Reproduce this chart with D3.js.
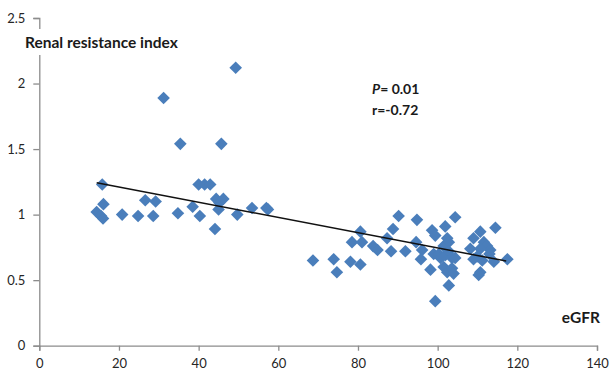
<!DOCTYPE html>
<html><head><meta charset="utf-8">
<script src="https://cdn.jsdelivr.net/npm/d3@7"></script>
<style>
html,body{margin:0;padding:0;background:#fff;}
svg{display:block;font-family:Lato,"Open Sans",sans-serif;}
</style></head>
<body>
<svg id="chart" width="611" height="375"></svg>
<script>
const eGFR = [14.4,15.5,16.0,16.1,15.8,20.8,24.8,26.6,28.6,29.2,31.2,34.8,35.4,38.5,40.3,40.0,41.5,42.9,44.1,44.4,45.0,45.2,46.2,45.7,49.3,49.7,53.4,57.0,57.4,
  68.7,73.9,74.7,78.1,78.5,80.6,81.0,80.6,83.8,84.9,87.3,88.3,88.8,90.2,91.9,94.6,94.8,96.1,95.8,98.2,98.6,99.4,99.0,99.4,100.3,100.7,101.5,101.9,101.9,102.4,102.8,102.8,101.5,102.4,103.6,104.0,102.8,103.6,104.4,104.4,
  108.2,109.0,110.7,114.5,111.6,112.4,113.2,110.7,109.9,111.2,114.1,117.5,110.7,110.3,109.0,113.0];
const rri = [1.02,0.99,0.97,1.08,1.23,1.00,0.99,1.11,0.99,1.10,1.89,1.01,1.54,1.06,0.99,1.23,1.23,1.23,0.89,1.12,1.04,1.09,1.12,1.54,2.12,1.00,1.05,1.05,1.04,
  0.65,0.66,0.56,0.64,0.79,0.87,0.79,0.62,0.76,0.73,0.82,0.72,0.89,0.99,0.72,0.79,0.96,0.73,0.66,0.58,0.88,0.84,0.70,0.34,0.70,0.67,0.76,0.91,0.69,0.82,0.79,0.72,0.60,0.56,0.59,0.55,0.46,0.67,0.67,0.98,
  0.74,0.82,0.87,0.90,0.79,0.76,0.73,0.74,0.68,0.65,0.64,0.66,0.56,0.54,0.66,0.70];
const trendX = [14.4, 117.2];
const trendY = [1.243, 0.646];
const xTicks = [0,20,40,60,80,100,120,140];
const yTicks = [0,0.5,1,1.5,2,2.5];
const yTickLabels = ["0","0.5","1","1.5","2","2.5"];

const svg = d3.select("#chart");
const x = d3.scaleLinear().domain([0,140]).range([39.3,597]);
const y = d3.scaleLinear().domain([0,2.5]).range([345.7,18]);
const axisColor = "#8c8c8c";

// X axis
const xa = svg.append("g").attr("transform",`translate(0,${y(0)})`)
  .call(d3.axisBottom(x).tickValues(xTicks).tickSize(5).tickPadding(8).tickFormat(d3.format("d")));
// Y axis
const ya = svg.append("g").attr("transform",`translate(${x(0)},0)`)
  .call(d3.axisLeft(y).tickValues(yTicks).tickSize(6).tickPadding(8).tickFormat((d,i)=>yTickLabels[i]));
[xa,ya].forEach(g=>{
  g.select(".domain").attr("stroke",axisColor).attr("stroke-width",1.3);
  g.selectAll(".tick line").attr("stroke",axisColor).attr("stroke-width",1.3);
  g.selectAll(".tick text").attr("fill","#262626").attr("font-size",13).attr("font-family","Lato,sans-serif");
});

// Y label with white background covering axis
const bgRect = svg.append("rect").attr("fill","#fff");
const yl = svg.append("text").attr("x",25).attr("y",48).attr("font-size",15.5).attr("font-weight","bold")
  .attr("fill","#1a1a1a").text("Renal resistance index");
const bb = yl.node().getBBox();
bgRect.attr("x",bb.x-2).attr("y",bb.y-4).attr("width",bb.width+4).attr("height",bb.height+8);

// Points
const diamond = "M0,-6.3L6.3,0L0,6.3L-6.3,0Z";
svg.append("g").selectAll("path").data(eGFR.map((v,i)=>[v,rri[i]])).join("path")
  .attr("d",diamond).attr("transform",d=>`translate(${x(d[0])},${y(d[1])})`)
  .attr("fill","#4a7ebb");

// Trendline
svg.append("line").attr("x1",x(trendX[0])).attr("y1",y(trendY[0])).attr("x2",x(trendX[1])).attr("y2",y(trendY[1]))
  .attr("stroke","#111").attr("stroke-width",1.5);

// Stats
const st = svg.append("text").attr("x",372).attr("y",94).attr("font-size",14).attr("font-weight","bold").attr("fill","#1a1a1a");
st.append("tspan").attr("font-style","italic").text("P");
st.append("tspan").text("= 0.01");
svg.append("text").attr("x",372).attr("y",115).attr("font-size",14).attr("font-weight","bold").attr("fill","#1a1a1a").text("r=-0.72");

// X label
svg.append("text").attr("x",600).attr("y",323).attr("text-anchor","end").attr("font-size",15.5).attr("font-weight","bold")
  .attr("fill","#1a1a1a").text("eGFR");
</script>
</body></html>
